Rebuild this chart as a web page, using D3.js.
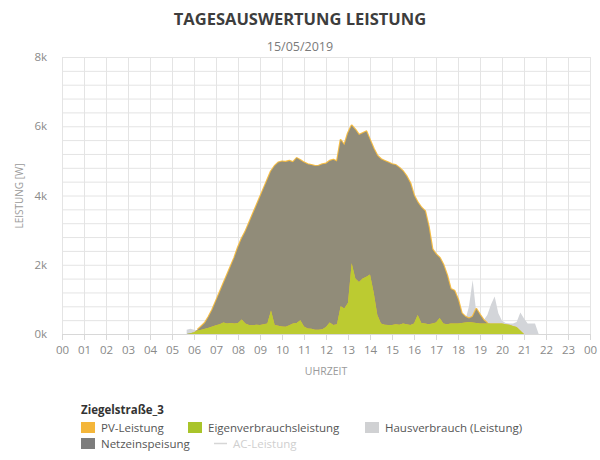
<!DOCTYPE html>
<html>
<head>
<meta charset="utf-8">
<script src="https://cdn.jsdelivr.net/npm/d3@7"></script>
<style>
  html, body { margin: 0; padding: 0; background: #ffffff; }
  svg { display: block; font-family: "Open Sans", "Noto Sans", sans-serif; }
</style>
</head>
<body>
<svg id="chart" width="600" height="460"></svg>
<script>
// ---------- DATA ----------
const title = "TAGESAUSWERTUNG LEISTUNG";
const subtitle = "15/05/2019";
const yAxisTitle = "LEISTUNG [W]";
const xAxisTitle = "UHRZEIT";
const legendTitle = "Ziegelstraße_3";

const times = [
  "05:40","05:50",
  "06:00","06:10","06:20","06:30","06:40","06:50",
  "07:00","07:10","07:20","07:30","07:40","07:50",
  "08:00","08:10","08:20","08:30","08:40","08:50",
  "09:00","09:10","09:20","09:30","09:40","09:50",
  "10:00","10:10","10:20","10:30","10:40","10:50",
  "11:00","11:10","11:20","11:30","11:40","11:50",
  "12:00","12:10","12:20","12:30","12:40","12:50",
  "13:00","13:10","13:20","13:30","13:40","13:50",
  "14:00","14:10","14:20","14:30","14:40","14:50",
  "15:00","15:10","15:20","15:30","15:40","15:50",
  "16:00","16:10","16:20","16:30","16:40","16:50",
  "17:00","17:10","17:20","17:30","17:40","17:50",
  "18:00","18:10","18:20","18:30","18:40","18:50",
  "19:00","19:10","19:20","19:30","19:40","19:50",
  "20:00","20:10","20:20","20:30","20:40","20:50",
  "21:00","21:10","21:20","21:30","21:40"
];

// PV-Leistung [W]
const pvLeistung = [
  0, 0,
  50, 120, 220, 320, 500, 700,
  950, 1200, 1450, 1700, 1950, 2200,
  2500, 2750, 2950, 3200, 3450, 3700,
  3950, 4200, 4450, 4700, 4850, 4950,
  4980, 4970, 5000, 4960, 5080, 5020,
  4950, 4900, 4880, 4850, 4860, 4900,
  4920, 5000, 5030, 4980, 5600, 5450,
  5800, 6020, 5900, 5750, 5800, 5850,
  5600, 5350, 5150, 5050, 5000, 4950,
  4900, 4880, 4800, 4700, 4550, 4350,
  4000, 3800, 3650, 3550, 3100, 2450,
  2300, 2200, 2000, 1700, 1300, 1250,
  1000, 600, 500, 450, 500, 720,
  550, 400, 310, 300, 300, 300,
  300, 280, 270, 230, 200, 100,
  0, 0, 0, 0, 0
];

// Eigenverbrauchsleistung [W]
const eigenverbrauch = [
  0, 20,
  50, 100, 120, 150, 180, 220,
  250, 280, 330, 300, 320, 300,
  320, 420, 300, 260, 250, 270,
  260, 280, 300, 680, 260, 240,
  220, 210, 250, 300, 320, 400,
  220, 160, 150, 120, 120, 140,
  200, 330, 260, 280, 800, 740,
  900, 2040, 1600, 1500, 1600, 1650,
  1720, 1200, 550, 300, 270, 260,
  260, 280, 270, 300, 280, 260,
  300, 550, 320, 300, 280, 300,
  330, 460, 300, 280, 300, 300,
  300, 320, 330, 350, 330, 320,
  300, 300, 300, 300, 300, 300,
  300, 280, 270, 230, 200, 100,
  0, 0, 0, 0, 0
];

// Hausverbrauch (Leistung) [W]
const hausverbrauch = [
  120, 150,
  120, 110, 130, 160, 190, 230,
  260, 290, 340, 310, 330, 310,
  330, 430, 310, 270, 260, 280,
  270, 290, 310, 690, 270, 250,
  230, 220, 260, 310, 330, 410,
  230, 170, 160, 130, 130, 150,
  210, 340, 270, 290, 810, 750,
  910, 2050, 1610, 1510, 1610, 1660,
  1730, 1210, 560, 310, 280, 270,
  270, 290, 280, 310, 290, 270,
  310, 560, 330, 310, 290, 310,
  340, 470, 310, 290, 310, 320,
  320, 350, 400, 800, 1560, 600,
  450, 400, 550, 850, 1080, 600,
  380, 320, 300, 300, 350, 620,
  450, 300, 300, 300, 0
];

const yTicks = [0, 2000, 4000, 6000, 8000];
const xTicks = [0,1,2,3,4,5,6,7,8,9,10,11,12,13,14,15,16,17,18,19,20,21,22,23,24];

const legendItems = [
  { label: "PV-Leistung", color: "#f4b63a", type: "box", faded: false },
  { label: "Eigenverbrauchsleistung", color: "#a9c42a", type: "box", faded: false },
  { label: "Hausverbrauch (Leistung)", color: "#d0d1d3", type: "box", faded: false },
  { label: "Netzeinspeisung", color: "#7d7d7d", type: "box", faded: false },
  { label: "AC-Leistung", color: "#d6d6d6", type: "line", faded: true }
];

// ---------- CHART ----------
const svg = d3.select("#chart");
const plot = { left: 62, right: 590, top: 57, bottom: 334 };

const x = d3.scaleLinear().domain([0, 24]).range([plot.left, plot.right]);
const y = d3.scaleLinear().domain([0, 8000]).range([plot.bottom, plot.top]);

const toHours = s => { const [h, m] = s.split(":").map(Number); return h + m / 60; };
const rows = times.map((t, i) => ({
  t: toHours(t), pv: pvLeistung[i], eigen: eigenverbrauch[i], haus: hausverbrauch[i]
}));

// titles
svg.append("text").attr("x", 300).attr("y", 25).attr("text-anchor", "middle")
  .attr("font-size", 16.5).attr("font-weight", "bold").attr("fill", "#3d3d3d")
  .text(title);
svg.append("text").attr("x", 300).attr("y", 51).attr("text-anchor", "middle")
  .attr("font-size", 12.5).attr("fill", "#7a7a7a")
  .text(subtitle);

// grid
const grid = svg.append("g");
grid.selectAll("line.h").data(d3.range(0, 8001, 400)).join("line")
  .attr("x1", plot.left).attr("x2", plot.right)
  .attr("y1", d => y(d) + 0.5).attr("y2", d => y(d) + 0.5)
  .attr("stroke", "#e4e4e4").attr("stroke-width", 1);
grid.selectAll("line.v").data(xTicks).join("line")
  .attr("x1", d => Math.round(x(d)) + 0.5).attr("x2", d => Math.round(x(d)) + 0.5)
  .attr("y1", plot.top).attr("y2", plot.bottom)
  .attr("stroke", "#e4e4e4").attr("stroke-width", 1);

// areas
const areaHaus = d3.area().x(d => x(d.t)).y0(y(0)).y1(d => y(d.haus));
const areaPV = d3.area().x(d => x(d.t)).y0(y(0)).y1(d => y(d.pv));
const linePV = d3.line().defined(d => d.pv - d.eigen > 0)
  .x(d => x(d.t)).y(d => y(d.pv));
const areaNetz = d3.area().x(d => x(d.t)).y0(d => y(d.eigen)).y1(d => y(d.pv));
const areaEigen = d3.area().x(d => x(d.t)).y0(y(0)).y1(d => y(d.eigen));

svg.append("path").datum(rows).attr("d", areaHaus).attr("fill", "#d3d5d9");
svg.append("path").datum(rows).attr("d", areaPV).attr("fill", "#f4b63a");
svg.append("path").datum(rows).attr("d", linePV).attr("fill", "none")
  .attr("stroke", "#f5bd45").attr("stroke-width", 2.2).attr("stroke-linejoin", "round");
svg.append("path").datum(rows).attr("d", areaNetz).attr("fill", "#918c79");
svg.append("path").datum(rows).attr("d", areaEigen).attr("fill", "#bccb31");

// x axis
const xAxis = d3.axisBottom(x).tickValues(xTicks)
  .tickFormat(d => String(d % 24).padStart(2, "0"))
  .tickSize(6).tickPadding(6);
const gx = svg.append("g").attr("transform", `translate(0,${plot.bottom})`).call(xAxis);
gx.select(".domain").attr("stroke", "#d8d8d8");
gx.selectAll(".tick line").attr("stroke", "#d8d8d8");
gx.selectAll(".tick text").attr("fill", "#8a8a8a").attr("font-size", 11.5)
  .attr("font-family", "\"Open Sans\", sans-serif");

// y axis
const yAxis = d3.axisLeft(y).tickValues(yTicks)
  .tickFormat(d => (d / 1000) + "k").tickSize(0).tickPadding(15);
const gy = svg.append("g").attr("transform", `translate(${plot.left},0)`).call(yAxis);
gy.select(".domain").remove();
gy.selectAll(".tick text").attr("fill", "#8a8a8a").attr("font-size", 11.5)
  .attr("font-family", "\"Open Sans\", sans-serif");

// axis titles
svg.append("text").attr("transform", "translate(23,196) rotate(-90)")
  .attr("text-anchor", "middle").attr("font-size", 10).attr("fill", "#9a9a9a")
  .text(yAxisTitle);
svg.append("text").attr("x", x(12)).attr("y", 375).attr("text-anchor", "middle")
  .attr("font-size", 10.5).attr("fill", "#9a9a9a")
  .text(xAxisTitle);

// legend
svg.append("text").attr("x", 81).attr("y", 414).attr("font-size", 11.5)
  .attr("font-weight", "bold").attr("fill", "#333").text(legendTitle);

const legendPos = [
  { x: 81, y: 422 }, { x: 188, y: 422 }, { x: 365, y: 422 },
  { x: 81, y: 438 }, { x: 212, y: 438 }
];
legendItems.forEach((it, i) => {
  const p = legendPos[i];
  const g = svg.append("g").attr("transform", `translate(${p.x},${p.y})`);
  if (it.type === "box") {
    g.append("rect").attr("width", 14).attr("height", 11).attr("fill", it.color);
  } else {
    g.append("line").attr("x1", 2).attr("x2", 15).attr("y1", 5.5).attr("y2", 5.5)
      .attr("stroke", it.color).attr("stroke-width", 1.5);
  }
  g.append("text").attr("x", it.type === "box" ? 20 : 21).attr("y", 10)
    .attr("font-size", 11.5).attr("fill", it.faded ? "#cfcfcf" : "#555")
    .text(it.label);
});
</script>
</body>
</html>
